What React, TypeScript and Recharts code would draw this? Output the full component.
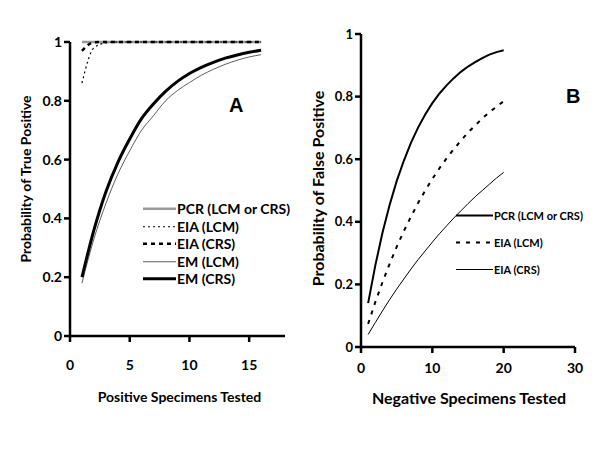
import React from 'react';
import { LineChart, Line, XAxis, YAxis, Legend, Label } from 'recharts';

// ---------- Panel A data: Probability of true positive ----------
const positiveTested = [1, 2, 3, 4, 5, 6, 7, 8, 9, 10, 11, 12, 13, 14, 15, 16];
const pcrTrueA = [1, 1, 1, 1, 1, 1, 1, 1, 1, 1, 1, 1, 1, 1, 1, 1];
const eiaLcmTrueA = [0.86, 0.98, 0.997, 1, 1, 1, 1, 1, 1, 1, 1, 1, 1, 1, 1, 1];
const eiaCrsTrueA = [0.97, 0.999, 1, 1, 1, 1, 1, 1, 1, 1, 1, 1, 1, 1, 1, 1];
const emLcmTrueA = [0.18, 0.33, 0.45, 0.55, 0.63, 0.7, 0.75, 0.8, 0.835, 0.862, 0.887, 0.907, 0.924, 0.938, 0.949, 0.957];
const emCrsTrueA = [0.2, 0.36, 0.49, 0.59, 0.67, 0.74, 0.79, 0.832, 0.866, 0.893, 0.914, 0.931, 0.945, 0.956, 0.965, 0.972];
const xTicksA = [0, 5, 10, 15];
const yTicks = [0, 0.2, 0.4, 0.6, 0.8, 1];

// ---------- Panel B data: Probability of false positive ----------
const negativeTested = [1, 2, 3, 4, 5, 6, 7, 8, 9, 10, 11, 12, 13, 14, 15, 16, 17, 18, 19, 20];
const pcrFalseB = [0.14, 0.26, 0.364, 0.453, 0.53, 0.595, 0.652, 0.701, 0.743, 0.779, 0.81, 0.836, 0.859, 0.879, 0.896, 0.91, 0.923, 0.934, 0.942, 0.948];
const eiaLcmFalseB = [0.074, 0.143, 0.206, 0.265, 0.32, 0.37, 0.416, 0.46, 0.5, 0.537, 0.571, 0.603, 0.632, 0.659, 0.685, 0.708, 0.73, 0.75, 0.768, 0.785];
const eiaCrsFalseB = [0.04, 0.078, 0.115, 0.151, 0.185, 0.217, 0.249, 0.279, 0.307, 0.335, 0.362, 0.387, 0.412, 0.435, 0.458, 0.48, 0.5, 0.52, 0.54, 0.558];
const xTicksB = [0, 10, 20, 30];

const rowsA = positiveTested.map((x, i) => ({
  x,
  pcr: pcrTrueA[i],
  eiaLcm: eiaLcmTrueA[i],
  eiaCrs: eiaCrsTrueA[i],
  emLcm: emLcmTrueA[i],
  emCrs: emCrsTrueA[i],
}));

const rowsB = negativeTested.map((x, i) => ({
  x,
  pcr: pcrFalseB[i],
  eiaLcm: eiaLcmFalseB[i],
  eiaCrs: eiaCrsFalseB[i],
}));

type S = { key: string; name: string; color: string; width: number; dash?: string };

const seriesA: S[] = [
  { key: 'pcr', name: 'PCR (LCM or CRS)', color: '#999999', width: 2.5 },
  { key: 'eiaLcm', name: 'EIA (LCM)', color: '#000000', width: 1.2, dash: '2 3' },
  { key: 'eiaCrs', name: 'EIA (CRS)', color: '#000000', width: 2.5, dash: '4 4' },
  { key: 'emLcm', name: 'EM (LCM)', color: '#333333', width: 0.8 },
  { key: 'emCrs', name: 'EM (CRS)', color: '#000000', width: 3 },
];

const seriesB: S[] = [
  { key: 'pcr', name: 'PCR (LCM or CRS)', color: '#000000', width: 2 },
  { key: 'eiaLcm', name: 'EIA (LCM)', color: '#000000', width: 2, dash: '4 6' },
  { key: 'eiaCrs', name: 'EIA (CRS)', color: '#000000', width: 1 },
];

const FONT = 'Lato, "Open Sans", sans-serif';

const LegendBox = ({ items, lineW, rowH, fontSize }: { items: S[]; lineW: number; rowH: number; fontSize: number }) => (
  <div style={{ fontFamily: FONT, fontWeight: 700, fontSize, color: '#000' }}>
    {items.map((s) => (
      <div key={s.key} style={{ display: 'flex', alignItems: 'center', height: rowH, whiteSpace: 'nowrap' }}>
        <svg width={lineW} height={rowH} style={{ display: 'block' }}>
          <line x1={0} x2={lineW} y1={rowH / 2} y2={rowH / 2} stroke={s.color} strokeWidth={s.width} strokeDasharray={s.dash} />
        </svg>
        <span style={{ marginLeft: 1 }}>{s.name}</span>
      </div>
    ))}
  </div>
);

const yTitle = (text: string, cx: number, dy: number, fs: number) => (props: any) => {
  const vb = props.viewBox || {};
  const cy = vb.y + vb.height / 2 + dy;
  return (
    <text x={cx} y={cy} transform={`rotate(-90 ${cx} ${cy})`} textAnchor="middle" dominantBaseline="central"
      style={{ fontFamily: FONT, fontWeight: 700, fontSize: fs, fill: '#000' }}>
      {text}
    </text>
  );
};

const xTitle = (text: string, cy: number, dx: number, fs: number) => (props: any) => {
  const vb = props.viewBox || {};
  const cx = vb.x + vb.width / 2 + dx;
  return (
    <text x={cx} y={cy} textAnchor="middle" dominantBaseline="central"
      style={{ fontFamily: FONT, fontWeight: 700, fontSize: fs, fill: '#000' }}>
      {text}
    </text>
  );
};

const axisLine = { stroke: '#000', strokeWidth: 2.5 };
const tickStyle = (fs: number) => ({ fill: '#000', fontSize: fs, fontWeight: 700, fontFamily: FONT });

export default function App() {
  return (
    <div style={{ position: 'absolute', left: 0, top: 0, width: 600, height: 450, background: '#fff' }}>
      <div style={{ position: 'absolute', left: 0, top: 0 }}>
        <LineChart width={300} height={450} data={rowsA} margin={{ top: 42, right: 15, bottom: 54, left: 15 }}>
          <XAxis type="number" dataKey="x" domain={[0, 18]} ticks={xTicksA} axisLine={axisLine} tickLine={axisLine}
            tickSize={6} tickMargin={18} height={60} tick={tickStyle(14)} interval={0}>
            <Label content={xTitle('Positive Specimens Tested', 396, 2, 14)} />
          </XAxis>
          <YAxis type="number" domain={[0, 1]} ticks={yTicks} axisLine={axisLine} tickLine={axisLine}
            tickSize={6} tickMargin={2} width={55} tick={tickStyle(14)} interval={0}>
            <Label content={yTitle('Probability of True Positive', 25, -10, 14)} />
          </YAxis>
          <Legend layout="vertical" align="center" verticalAlign="middle"
            wrapperStyle={{ left: 143, top: 200, width: 160 }}
            content={() => <LegendBox items={seriesA} lineW={33} rowH={17.5} fontSize={14} />} />
          {seriesA.map((s) => (
            <Line key={s.key} type="monotone" dataKey={s.key} name={s.name} stroke={s.color} strokeWidth={s.width}
              strokeDasharray={s.dash} dot={false} isAnimationActive={false} />
          ))}
        </LineChart>
      </div>
      <div style={{ position: 'absolute', left: 300, top: 0 }}>
        <LineChart width={300} height={450} data={rowsB} margin={{ top: 34, right: 25, bottom: 43, left: 11 }}>
          <XAxis type="number" dataKey="x" domain={[0, 30]} ticks={xTicksB} axisLine={axisLine} tickLine={axisLine}
            tickSize={6} tickMargin={10} height={60} tick={tickStyle(14)} interval={0}>
            <Label content={xTitle('Negative Specimens Tested', 397, 1, 16)} />
          </XAxis>
          <YAxis type="number" domain={[0, 1]} ticks={yTicks} axisLine={axisLine} tickLine={axisLine}
            tickSize={6} tickMargin={2} width={50} tick={tickStyle(13)} interval={0}>
            <Label content={yTitle('Probability of False Positive', 17, -2, 16)} />
          </YAxis>
          <Legend layout="vertical" align="center" verticalAlign="middle"
            wrapperStyle={{ left: 156, top: 202, width: 140 }}
            content={() => <LegendBox items={seriesB} lineW={37} rowH={27} fontSize={11} />} />
          {seriesB.map((s) => (
            <Line key={s.key} type="linear" dataKey={s.key} name={s.name} stroke={s.color} strokeWidth={s.width}
              strokeDasharray={s.dash} dot={false} isAnimationActive={false} />
          ))}
        </LineChart>
      </div>
      <div style={{ position: 'absolute', left: 229, top: 95, fontFamily: '"Liberation Sans", Arial, sans-serif', fontWeight: 700, fontSize: 20, lineHeight: '20px' }}>A</div>
      <div style={{ position: 'absolute', left: 566, top: 86, fontFamily: '"Liberation Sans", Arial, sans-serif', fontWeight: 700, fontSize: 20, lineHeight: '20px' }}>B</div>
    </div>
  );
}
